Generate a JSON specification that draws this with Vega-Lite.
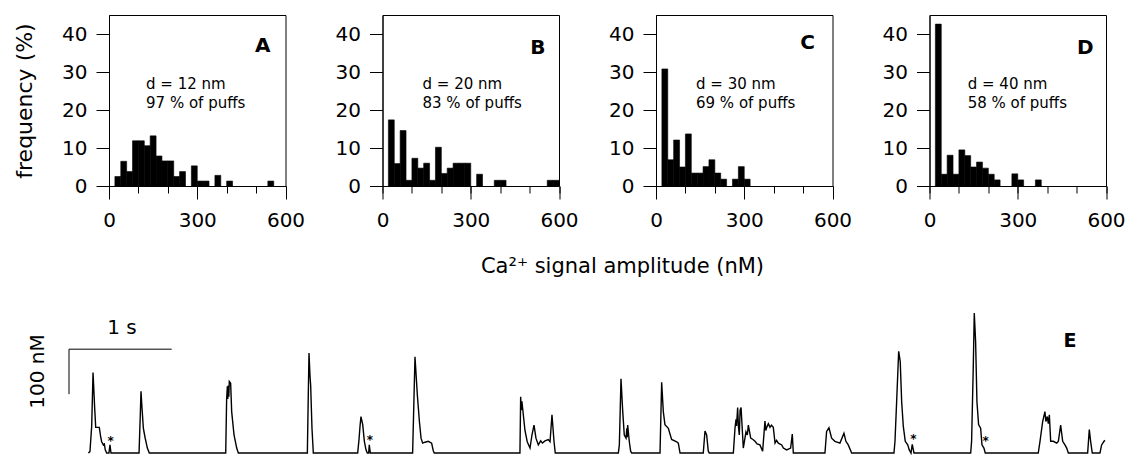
{
  "$schema": "https://vega.github.io/schema/vega-lite/v6.json",
  "padding": {"left": 13, "top": 14, "right": 0, "bottom": 0},
  "background": "white",
  "config": {
    "font": "DejaVu Sans",
    "view": {"stroke": "black", "strokeWidth": 1},
    "text": {"color": "black"},
    "axis": {"domainColor": "black", "tickColor": "black", "labelColor": "black", "titleColor": "black", "grid": false, "domainWidth": 1, "tickWidth": 1}
  },
  "datasets": {
    "hist": [
      {"panel": "A", "x0": 20, "x1": 40, "f": 2.5}, {"panel": "A", "x0": 40, "x1": 60, "f": 6.5}, {"panel": "A", "x0": 60, "x1": 80, "f": 3.8},
      {"panel": "A", "x0": 80, "x1": 100, "f": 11.9}, {"panel": "A", "x0": 100, "x1": 120, "f": 11.9}, {"panel": "A", "x0": 120, "x1": 140, "f": 10.6},
      {"panel": "A", "x0": 140, "x1": 160, "f": 13.2}, {"panel": "A", "x0": 160, "x1": 180, "f": 7.9}, {"panel": "A", "x0": 180, "x1": 200, "f": 6.6},
      {"panel": "A", "x0": 200, "x1": 220, "f": 6.6}, {"panel": "A", "x0": 220, "x1": 240, "f": 2.5}, {"panel": "A", "x0": 240, "x1": 260, "f": 3.8},
      {"panel": "A", "x0": 280, "x1": 300, "f": 5.3}, {"panel": "A", "x0": 300, "x1": 320, "f": 1.3}, {"panel": "A", "x0": 320, "x1": 340, "f": 1.3},
      {"panel": "A", "x0": 360, "x1": 380, "f": 2.8}, {"panel": "A", "x0": 400, "x1": 420, "f": 1.3}, {"panel": "A", "x0": 540, "x1": 560, "f": 1.3},
      {"panel": "B", "x0": 20, "x1": 40, "f": 17.4}, {"panel": "B", "x0": 40, "x1": 60, "f": 5.9}, {"panel": "B", "x0": 60, "x1": 80, "f": 14.6},
      {"panel": "B", "x0": 80, "x1": 100, "f": 1.5}, {"panel": "B", "x0": 100, "x1": 120, "f": 7.3}, {"panel": "B", "x0": 120, "x1": 140, "f": 4.7},
      {"panel": "B", "x0": 140, "x1": 160, "f": 6.0}, {"panel": "B", "x0": 160, "x1": 180, "f": 1.5}, {"panel": "B", "x0": 180, "x1": 200, "f": 10.2},
      {"panel": "B", "x0": 200, "x1": 220, "f": 3.3}, {"panel": "B", "x0": 220, "x1": 240, "f": 4.7}, {"panel": "B", "x0": 240, "x1": 260, "f": 6.0},
      {"panel": "B", "x0": 260, "x1": 280, "f": 6.0}, {"panel": "B", "x0": 280, "x1": 300, "f": 6.0}, {"panel": "B", "x0": 320, "x1": 340, "f": 3.1},
      {"panel": "B", "x0": 380, "x1": 400, "f": 1.5}, {"panel": "B", "x0": 400, "x1": 420, "f": 1.5}, {"panel": "B", "x0": 560, "x1": 580, "f": 1.5},
      {"panel": "B", "x0": 580, "x1": 600, "f": 1.5},
      {"panel": "C", "x0": 20, "x1": 40, "f": 30.8}, {"panel": "C", "x0": 40, "x1": 60, "f": 6.9}, {"panel": "C", "x0": 60, "x1": 80, "f": 12.1},
      {"panel": "C", "x0": 80, "x1": 100, "f": 5.0}, {"panel": "C", "x0": 100, "x1": 120, "f": 13.7}, {"panel": "C", "x0": 120, "x1": 140, "f": 3.4},
      {"panel": "C", "x0": 140, "x1": 160, "f": 3.4}, {"panel": "C", "x0": 160, "x1": 180, "f": 5.1}, {"panel": "C", "x0": 180, "x1": 200, "f": 6.9},
      {"panel": "C", "x0": 200, "x1": 220, "f": 3.4}, {"panel": "C", "x0": 220, "x1": 240, "f": 1.8}, {"panel": "C", "x0": 260, "x1": 280, "f": 1.8},
      {"panel": "C", "x0": 280, "x1": 300, "f": 5.1}, {"panel": "C", "x0": 300, "x1": 320, "f": 1.8},
      {"panel": "D", "x0": 20, "x1": 40, "f": 42.6}, {"panel": "D", "x0": 40, "x1": 60, "f": 3.1}, {"panel": "D", "x0": 60, "x1": 80, "f": 8.1},
      {"panel": "D", "x0": 80, "x1": 100, "f": 3.1}, {"panel": "D", "x0": 100, "x1": 120, "f": 9.5}, {"panel": "D", "x0": 120, "x1": 140, "f": 8.0},
      {"panel": "D", "x0": 140, "x1": 160, "f": 5.0}, {"panel": "D", "x0": 160, "x1": 180, "f": 6.3}, {"panel": "D", "x0": 180, "x1": 200, "f": 4.7},
      {"panel": "D", "x0": 200, "x1": 220, "f": 3.1}, {"panel": "D", "x0": 220, "x1": 240, "f": 1.6}, {"panel": "D", "x0": 280, "x1": 300, "f": 3.2},
      {"panel": "D", "x0": 300, "x1": 320, "f": 1.6}, {"panel": "D", "x0": 360, "x1": 380, "f": 1.6}
    ],
    "notes": [
      {"panel": "A", "x": 126, "f": 26.9, "label": "d = 12 nm"}, {"panel": "A", "x": 126, "f": 21.8, "label": "97 % of puffs"},
      {"panel": "B", "x": 136, "f": 26.9, "label": "d = 20 nm"}, {"panel": "B", "x": 136, "f": 21.8, "label": "83 % of puffs"},
      {"panel": "C", "x": 136, "f": 26.9, "label": "d = 30 nm"}, {"panel": "C", "x": 136, "f": 21.8, "label": "69 % of puffs"},
      {"panel": "D", "x": 130, "f": 26.9, "label": "d = 40 nm"}, {"panel": "D", "x": 130, "f": 21.8, "label": "58 % of puffs"}
    ],
    "letters": [
      {"panel": "A", "x": 523, "f": 36.9, "label": "A"}, {"panel": "B", "x": 528, "f": 36.4, "label": "B"},
      {"panel": "C", "x": 515, "f": 37.7, "label": "C"}, {"panel": "D", "x": 530, "f": 36.3, "label": "D"}
    ],
    "trace": [
      {"t": 0.188, "a": 0}, {"t": 0.204, "a": 3}, {"t": 0.221, "a": 60}, {"t": 0.234, "a": 179}, {"t": 0.240, "a": 150}, {"t": 0.250, "a": 100},
      {"t": 0.260, "a": 57}, {"t": 0.295, "a": 57}, {"t": 0.309, "a": 35}, {"t": 0.318, "a": 25}, {"t": 0.334, "a": 18}, {"t": 0.344, "a": 20},
      {"t": 0.353, "a": 7}, {"t": 0.367, "a": 0}, {"t": 0.389, "a": 0}, {"t": 0.399, "a": 18}, {"t": 0.409, "a": 0},
      {"t": 0.682, "a": 0}, {"t": 0.695, "a": 90}, {"t": 0.701, "a": 137}, {"t": 0.711, "a": 100}, {"t": 0.724, "a": 55}, {"t": 0.740, "a": 35},
      {"t": 0.763, "a": 11}, {"t": 0.782, "a": 0},
      {"t": 1.526, "a": 0}, {"t": 1.535, "a": 120}, {"t": 1.542, "a": 148}, {"t": 1.546, "a": 120}, {"t": 1.551, "a": 150}, {"t": 1.556, "a": 125},
      {"t": 1.561, "a": 159}, {"t": 1.574, "a": 155}, {"t": 1.584, "a": 92}, {"t": 1.607, "a": 40}, {"t": 1.633, "a": 11}, {"t": 1.649, "a": 0},
      {"t": 2.321, "a": 0}, {"t": 2.330, "a": 130}, {"t": 2.337, "a": 222}, {"t": 2.347, "a": 170}, {"t": 2.353, "a": 151}, {"t": 2.366, "a": 55},
      {"t": 2.379, "a": 0},
      {"t": 2.811, "a": 0}, {"t": 2.824, "a": 30}, {"t": 2.834, "a": 60}, {"t": 2.843, "a": 81}, {"t": 2.860, "a": 63}, {"t": 2.876, "a": 26},
      {"t": 2.892, "a": 7}, {"t": 2.905, "a": 0}, {"t": 2.918, "a": 0}, {"t": 2.924, "a": 18}, {"t": 2.934, "a": 0},
      {"t": 3.346, "a": 0}, {"t": 3.359, "a": 120}, {"t": 3.369, "a": 214}, {"t": 3.392, "a": 129}, {"t": 3.412, "a": 70}, {"t": 3.428, "a": 33},
      {"t": 3.444, "a": 22}, {"t": 3.466, "a": 24}, {"t": 3.499, "a": 26}, {"t": 3.531, "a": 22}, {"t": 3.547, "a": 5}, {"t": 3.557, "a": 0},
      {"t": 4.391, "a": 0}, {"t": 4.398, "a": 125}, {"t": 4.404, "a": 95}, {"t": 4.410, "a": 115}, {"t": 4.417, "a": 100}, {"t": 4.440, "a": 50},
      {"t": 4.462, "a": 25}, {"t": 4.489, "a": 11}, {"t": 4.508, "a": 40}, {"t": 4.528, "a": 62}, {"t": 4.547, "a": 33}, {"t": 4.570, "a": 18},
      {"t": 4.593, "a": 27}, {"t": 4.610, "a": 22}, {"t": 4.635, "a": 27}, {"t": 4.667, "a": 30}, {"t": 4.684, "a": 25}, {"t": 4.703, "a": 85},
      {"t": 4.723, "a": 25}, {"t": 4.735, "a": 0},
      {"t": 5.349, "a": 0}, {"t": 5.359, "a": 18}, {"t": 5.375, "a": 165}, {"t": 5.392, "a": 92}, {"t": 5.407, "a": 40}, {"t": 5.424, "a": 33},
      {"t": 5.432, "a": 55}, {"t": 5.436, "a": 35}, {"t": 5.440, "a": 62}, {"t": 5.456, "a": 25}, {"t": 5.469, "a": 4}, {"t": 5.479, "a": 0},
      {"t": 5.755, "a": 0}, {"t": 5.771, "a": 157}, {"t": 5.787, "a": 92}, {"t": 5.803, "a": 63}, {"t": 5.836, "a": 55}, {"t": 5.868, "a": 30},
      {"t": 5.917, "a": 25}, {"t": 5.933, "a": 22}, {"t": 5.950, "a": 0},
      {"t": 6.176, "a": 0}, {"t": 6.193, "a": 49}, {"t": 6.209, "a": 40}, {"t": 6.225, "a": 4}, {"t": 6.235, "a": 0},
      {"t": 6.469, "a": 0}, {"t": 6.485, "a": 55}, {"t": 6.495, "a": 75}, {"t": 6.500, "a": 60}, {"t": 6.511, "a": 101}, {"t": 6.518, "a": 60},
      {"t": 6.527, "a": 40}, {"t": 6.535, "a": 95}, {"t": 6.544, "a": 101}, {"t": 6.566, "a": 11}, {"t": 6.592, "a": 47}, {"t": 6.605, "a": 40},
      {"t": 6.615, "a": 62}, {"t": 6.638, "a": 33}, {"t": 6.660, "a": 30}, {"t": 6.680, "a": 26}, {"t": 6.700, "a": 20}, {"t": 6.728, "a": 18},
      {"t": 6.754, "a": 4}, {"t": 6.777, "a": 71}, {"t": 6.785, "a": 50}, {"t": 6.794, "a": 57}, {"t": 6.810, "a": 65}, {"t": 6.826, "a": 57},
      {"t": 6.840, "a": 62}, {"t": 6.858, "a": 57}, {"t": 6.875, "a": 22}, {"t": 6.890, "a": 28}, {"t": 6.907, "a": 22}, {"t": 6.940, "a": 18},
      {"t": 6.956, "a": 11}, {"t": 6.988, "a": 7}, {"t": 7.027, "a": 11}, {"t": 7.043, "a": 42}, {"t": 7.053, "a": 0},
      {"t": 7.361, "a": 0}, {"t": 7.377, "a": 48}, {"t": 7.400, "a": 56}, {"t": 7.426, "a": 33}, {"t": 7.458, "a": 26}, {"t": 7.507, "a": 22},
      {"t": 7.546, "a": 44}, {"t": 7.565, "a": 26}, {"t": 7.588, "a": 18}, {"t": 7.621, "a": 0},
      {"t": 8.033, "a": 0}, {"t": 8.043, "a": 26}, {"t": 8.059, "a": 114}, {"t": 8.079, "a": 226}, {"t": 8.094, "a": 203}, {"t": 8.108, "a": 114},
      {"t": 8.124, "a": 59}, {"t": 8.143, "a": 26}, {"t": 8.167, "a": 18}, {"t": 8.182, "a": 7}, {"t": 8.199, "a": 0}, {"t": 8.211, "a": 19},
      {"t": 8.228, "a": 0},
      {"t": 8.780, "a": 0}, {"t": 8.789, "a": 26}, {"t": 8.805, "a": 189}, {"t": 8.815, "a": 311}, {"t": 8.828, "a": 248}, {"t": 8.841, "a": 114},
      {"t": 8.857, "a": 63}, {"t": 8.877, "a": 55}, {"t": 8.890, "a": 18}, {"t": 8.909, "a": 11}, {"t": 8.922, "a": 0},
      {"t": 9.438, "a": 0}, {"t": 9.455, "a": 26}, {"t": 9.481, "a": 70}, {"t": 9.503, "a": 92}, {"t": 9.512, "a": 70}, {"t": 9.526, "a": 81},
      {"t": 9.536, "a": 65}, {"t": 9.546, "a": 85}, {"t": 9.559, "a": 26}, {"t": 9.585, "a": 26}, {"t": 9.618, "a": 22}, {"t": 9.634, "a": 26},
      {"t": 9.656, "a": 62}, {"t": 9.676, "a": 26}, {"t": 9.698, "a": 18}, {"t": 9.715, "a": 11}, {"t": 9.731, "a": 0},
      {"t": 9.919, "a": 0}, {"t": 9.935, "a": 52}, {"t": 9.948, "a": 26}, {"t": 9.964, "a": 0},
      {"t": 10.039, "a": 0}, {"t": 10.055, "a": 18}, {"t": 10.078, "a": 26}, {"t": 10.088, "a": 28}
    ]
  },
  "vconcat": [
    {
      "spacing": 96.5,
      "bounds": "flush",
      "hconcat": [
        {
          "width": 176.5, "height": 171,
          "resolve": {"axis": {"x": "independent"}},
          "layer": [
            {
              "data": {"name": "hist"}, "transform": [{"filter": "datum.panel === 'A'"}],
              "mark": {"type": "rect", "color": "black", "stroke": "black", "strokeWidth": 0.6},
              "encoding": {
                "x": {"field": "x0", "type": "quantitative", "scale": {"domain": [0, 600], "nice": false, "zero": false},
                      "axis": {"orient": "bottom", "values": [0, 100, 200, 300, 400, 500, 600], "tickSize": 7, "labels": false, "title": null}},
                "x2": {"field": "x1"},
                "y": {"field": "f", "type": "quantitative", "scale": {"domain": [0, 45], "nice": false},
                      "axis": {"values": [0, 10, 20, 30, 40], "tickSize": 13, "labelPadding": 9, "labelFontSize": 20, "title": "frequency (%)", "titleFontSize": 22, "titleFontWeight": "normal", "titlePadding": 25}},
                "y2": {"datum": 0}
              }
            },
            {
              "data": {"name": "notes"}, "transform": [{"filter": "datum.panel === 'A'"}],
              "mark": {"type": "text", "align": "left", "baseline": "middle", "fontSize": 15},
              "encoding": {
                "x": {"field": "x", "type": "quantitative", "axis": {"orient": "bottom", "values": [0, 300, 600], "tickSize": 13, "labelFontSize": 20, "labelPadding": 11, "labelFlush": false, "domain": false, "title": null}},
                "y": {"field": "f", "type": "quantitative",
                      "axis": {"values": [0, 10, 20, 30, 40], "tickSize": 13, "labelPadding": 9, "labelFontSize": 20, "title": "frequency (%)", "titleFontSize": 22, "titleFontWeight": "normal", "titlePadding": 25}},
                "text": {"field": "label"}
              }
            },
            {
              "data": {"name": "letters"}, "transform": [{"filter": "datum.panel === 'A'"}],
              "mark": {"type": "text", "align": "center", "baseline": "middle", "fontSize": 20, "fontWeight": "bold"},
              "encoding": {
                "x": {"field": "x", "type": "quantitative", "axis": null},
                "y": {"field": "f", "type": "quantitative",
                      "axis": {"values": [0, 10, 20, 30, 40], "tickSize": 13, "labelPadding": 9, "labelFontSize": 20, "title": "frequency (%)", "titleFontSize": 22, "titleFontWeight": "normal", "titlePadding": 25}},
                "text": {"field": "label"}
              }
            }
          ]
        },
        {
          "width": 176.5, "height": 171,
          "resolve": {"axis": {"x": "independent"}},
          "layer": [
            {
              "data": {"name": "hist"}, "transform": [{"filter": "datum.panel === 'B'"}],
              "mark": {"type": "rect", "color": "black", "stroke": "black", "strokeWidth": 0.6},
              "encoding": {
                "x": {"field": "x0", "type": "quantitative", "scale": {"domain": [0, 600], "nice": false, "zero": false},
                      "axis": {"orient": "bottom", "values": [0, 100, 200, 300, 400, 500, 600], "tickSize": 7, "labels": false, "title": null}},
                "x2": {"field": "x1"},
                "y": {"field": "f", "type": "quantitative", "scale": {"domain": [0, 45], "nice": false},
                      "axis": {"values": [0, 10, 20, 30, 40], "tickSize": 13, "labelPadding": 9, "labelFontSize": 20, "title": null}},
                "y2": {"datum": 0}
              }
            },
            {
              "data": {"name": "notes"}, "transform": [{"filter": "datum.panel === 'B'"}],
              "mark": {"type": "text", "align": "left", "baseline": "middle", "fontSize": 15},
              "encoding": {
                "x": {"field": "x", "type": "quantitative", "axis": {"orient": "bottom", "values": [0, 300, 600], "tickSize": 13, "labelFontSize": 20, "labelPadding": 11, "labelFlush": false, "domain": false,
                      "title": "Ca²⁺ signal amplitude (nM)", "titleFontSize": 21, "titleFontWeight": "normal", "titleX": 239.5, "titleY": 86, "titleAlign": "center", "titleBaseline": "alphabetic", "titleAnchor": null}},
                "y": {"field": "f", "type": "quantitative", "axis": {"values": [0, 10, 20, 30, 40], "tickSize": 13, "labelPadding": 9, "labelFontSize": 20, "title": null}},
                "text": {"field": "label"}
              }
            },
            {
              "data": {"name": "letters"}, "transform": [{"filter": "datum.panel === 'B'"}],
              "mark": {"type": "text", "align": "center", "baseline": "middle", "fontSize": 20, "fontWeight": "bold"},
              "encoding": {
                "x": {"field": "x", "type": "quantitative", "axis": null},
                "y": {"field": "f", "type": "quantitative", "axis": {"values": [0, 10, 20, 30, 40], "tickSize": 13, "labelPadding": 9, "labelFontSize": 20, "title": null}},
                "text": {"field": "label"}
              }
            }
          ]
        },
        {
          "width": 176.5, "height": 171,
          "resolve": {"axis": {"x": "independent"}},
          "layer": [
            {
              "data": {"name": "hist"}, "transform": [{"filter": "datum.panel === 'C'"}],
              "mark": {"type": "rect", "color": "black", "stroke": "black", "strokeWidth": 0.6},
              "encoding": {
                "x": {"field": "x0", "type": "quantitative", "scale": {"domain": [0, 600], "nice": false, "zero": false},
                      "axis": {"orient": "bottom", "values": [0, 100, 200, 300, 400, 500, 600], "tickSize": 7, "labels": false, "title": null}},
                "x2": {"field": "x1"},
                "y": {"field": "f", "type": "quantitative", "scale": {"domain": [0, 45], "nice": false},
                      "axis": {"values": [0, 10, 20, 30, 40], "tickSize": 13, "labelPadding": 9, "labelFontSize": 20, "title": null}},
                "y2": {"datum": 0}
              }
            },
            {
              "data": {"name": "notes"}, "transform": [{"filter": "datum.panel === 'C'"}],
              "mark": {"type": "text", "align": "left", "baseline": "middle", "fontSize": 15},
              "encoding": {
                "x": {"field": "x", "type": "quantitative", "axis": {"orient": "bottom", "values": [0, 300, 600], "tickSize": 13, "labelFontSize": 20, "labelPadding": 11, "labelFlush": false, "domain": false, "title": null}},
                "y": {"field": "f", "type": "quantitative", "axis": {"values": [0, 10, 20, 30, 40], "tickSize": 13, "labelPadding": 9, "labelFontSize": 20, "title": null}},
                "text": {"field": "label"}
              }
            },
            {
              "data": {"name": "letters"}, "transform": [{"filter": "datum.panel === 'C'"}],
              "mark": {"type": "text", "align": "center", "baseline": "middle", "fontSize": 20, "fontWeight": "bold"},
              "encoding": {
                "x": {"field": "x", "type": "quantitative", "axis": null},
                "y": {"field": "f", "type": "quantitative", "axis": {"values": [0, 10, 20, 30, 40], "tickSize": 13, "labelPadding": 9, "labelFontSize": 20, "title": null}},
                "text": {"field": "label"}
              }
            }
          ]
        },
        {
          "width": 176.5, "height": 171,
          "resolve": {"axis": {"x": "independent"}},
          "layer": [
            {
              "data": {"name": "hist"}, "transform": [{"filter": "datum.panel === 'D'"}],
              "mark": {"type": "rect", "color": "black", "stroke": "black", "strokeWidth": 0.6},
              "encoding": {
                "x": {"field": "x0", "type": "quantitative", "scale": {"domain": [0, 600], "nice": false, "zero": false},
                      "axis": {"orient": "bottom", "values": [0, 100, 200, 300, 400, 500, 600], "tickSize": 7, "labels": false, "title": null}},
                "x2": {"field": "x1"},
                "y": {"field": "f", "type": "quantitative", "scale": {"domain": [0, 45], "nice": false},
                      "axis": {"values": [0, 10, 20, 30, 40], "tickSize": 13, "labelPadding": 9, "labelFontSize": 20, "title": null}},
                "y2": {"datum": 0}
              }
            },
            {
              "data": {"name": "notes"}, "transform": [{"filter": "datum.panel === 'D'"}],
              "mark": {"type": "text", "align": "left", "baseline": "middle", "fontSize": 15},
              "encoding": {
                "x": {"field": "x", "type": "quantitative", "axis": {"orient": "bottom", "values": [0, 300, 600], "tickSize": 13, "labelFontSize": 20, "labelPadding": 11, "labelFlush": false, "domain": false, "title": null}},
                "y": {"field": "f", "type": "quantitative", "axis": {"values": [0, 10, 20, 30, 40], "tickSize": 13, "labelPadding": 9, "labelFontSize": 20, "title": null}},
                "text": {"field": "label"}
              }
            },
            {
              "data": {"name": "letters"}, "transform": [{"filter": "datum.panel === 'D'"}],
              "mark": {"type": "text", "align": "center", "baseline": "middle", "fontSize": 20, "fontWeight": "bold"},
              "encoding": {
                "x": {"field": "x", "type": "quantitative", "axis": null},
                "y": {"field": "f", "type": "quantitative", "axis": {"values": [0, 10, 20, 30, 40], "tickSize": 13, "labelPadding": 9, "labelFontSize": 20, "title": null}},
                "text": {"field": "label"}
              }
            }
          ]
        }
      ]
    },
    {
      "width": 1011, "height": 166.5,
      "view": {"stroke": null},
      "encoding": {
        "x": {"field": "t", "type": "quantitative", "scale": {"domain": [0.3895, 10.234], "nice": false, "zero": false}, "axis": null},
        "y": {"field": "a", "type": "quantitative", "scale": {"domain": [-10, 360], "nice": false, "zero": false}, "axis": null}
      },
      "layer": [
        {"data": {"name": "trace"}, "mark": {"type": "line", "color": "black", "strokeWidth": 1.4}},
        {
          "data": {"values": [{"t": 0, "a": 130.7, "o": 0}, {"t": 0, "a": 230.7, "o": 1}, {"t": 1, "a": 230.7, "o": 2}]},
          "mark": {"type": "line", "color": "black", "strokeWidth": 1},
          "encoding": {"order": {"field": "o", "type": "quantitative"}}
        },
        {
          "data": {"values": [{"t": 0.516, "a": 276.7, "label": "1 s"}]},
          "mark": {"type": "text", "fontSize": 20, "align": "center", "baseline": "middle", "color": "black"},
          "encoding": {"text": {"field": "label"}}
        },
        {
          "data": {"values": [{"t": -0.299, "a": 181, "label": "100 nM"}]},
          "mark": {"type": "text", "fontSize": 20, "align": "center", "baseline": "middle", "angle": 270, "color": "black"},
          "encoding": {"text": {"field": "label"}}
        },
        {
          "data": {"values": [{"t": 9.747, "a": 248.9, "label": "E"}]},
          "mark": {"type": "text", "fontSize": 19, "fontWeight": "bold", "align": "center", "baseline": "middle", "color": "black"},
          "encoding": {"text": {"field": "label"}}
        },
        {
          "data": {"values": [{"t": 0.406, "a": 25.6, "label": "*"}, {"t": 2.931, "a": 29.3, "label": "*"}, {"t": 8.221, "a": 31.6, "label": "*"}, {"t": 8.926, "a": 25.6, "label": "*"}]},
          "mark": {"type": "text", "fontSize": 12, "fontWeight": "bold", "align": "center", "baseline": "middle", "color": "black"},
          "encoding": {"text": {"field": "label"}}
        }
      ]
    }
  ],
  "spacing": 14
}
